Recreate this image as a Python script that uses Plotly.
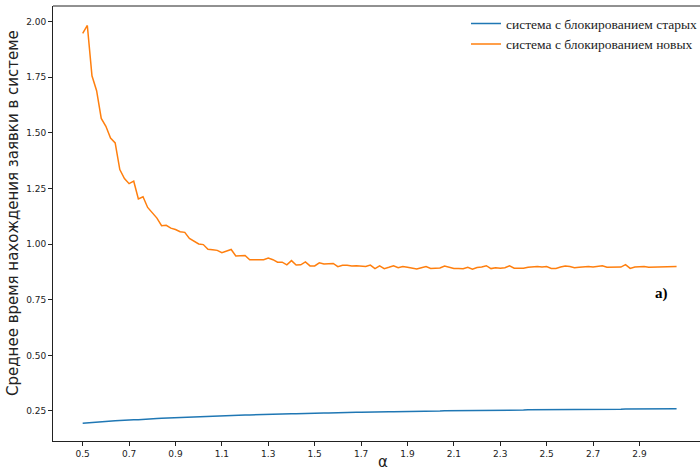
import plotly.graph_objects as go

alpha = [round(0.5 + 0.02 * i, 2) for i in range(129)]

blocked_old = [
    0.195, 0.197, 0.198, 0.200, 0.201,
    0.203, 0.204, 0.206, 0.207, 0.209,
    0.210, 0.211, 0.211, 0.213, 0.214,
    0.215, 0.216, 0.217, 0.218, 0.219,
    0.220, 0.220, 0.221, 0.222, 0.223,
    0.224, 0.224, 0.225, 0.226, 0.227,
    0.228, 0.228, 0.229, 0.230, 0.231,
    0.232, 0.232, 0.233, 0.234, 0.234,
    0.235, 0.236, 0.236, 0.237, 0.237,
    0.238, 0.238, 0.239, 0.239, 0.240,
    0.240, 0.241, 0.241, 0.241, 0.242,
    0.242, 0.243, 0.243, 0.243, 0.244,
    0.244, 0.245, 0.245, 0.245, 0.246,
    0.246, 0.247, 0.247, 0.247, 0.248,
    0.248, 0.248, 0.249, 0.249, 0.249,
    0.250, 0.250, 0.250, 0.251, 0.251,
    0.251, 0.251, 0.252, 0.252, 0.252,
    0.252, 0.253, 0.253, 0.253, 0.253,
    0.253, 0.254, 0.254, 0.254, 0.254,
    0.254, 0.255, 0.255, 0.255, 0.255,
    0.255, 0.256, 0.256, 0.256, 0.256,
    0.256, 0.257, 0.257, 0.257, 0.257,
    0.257, 0.258, 0.258, 0.258, 0.258,
    0.258, 0.258, 0.259, 0.259, 0.259,
    0.259, 0.259, 0.259, 0.260, 0.260,
    0.260, 0.260, 0.260, 0.260,
]

blocked_new = [
    1.948, 1.983, 1.757, 1.690, 1.565,
    1.530, 1.477, 1.455, 1.335, 1.295,
    1.272, 1.283, 1.203, 1.213, 1.165,
    1.142, 1.117, 1.083, 1.085, 1.072,
    1.066, 1.056, 1.053, 1.026, 1.015,
    1.001, 0.998, 0.977, 0.975, 0.972,
    0.962, 0.969, 0.976, 0.947, 0.949,
    0.949, 0.930, 0.930, 0.933, 0.930,
    0.937, 0.930, 0.919, 0.919, 0.907,
    0.926, 0.906, 0.907, 0.920, 0.902,
    0.902, 0.916, 0.911, 0.913, 0.913,
    0.899, 0.905, 0.905, 0.902, 0.903,
    0.902, 0.900, 0.906, 0.890, 0.902,
    0.890, 0.896, 0.903, 0.894, 0.899,
    0.896, 0.893, 0.888, 0.894, 0.899,
    0.891, 0.893, 0.893, 0.902, 0.895,
    0.891, 0.891, 0.889, 0.896, 0.887,
    0.895, 0.897, 0.903, 0.890, 0.894,
    0.892, 0.894, 0.903, 0.892, 0.891,
    0.892, 0.896, 0.898, 0.899, 0.897,
    0.899, 0.891, 0.891, 0.897, 0.902,
    0.899, 0.894, 0.896, 0.897, 0.900,
    0.897, 0.899, 0.903, 0.896, 0.896,
    0.896, 0.897, 0.908, 0.891, 0.897,
    0.899, 0.900, 0.896, 0.897, 0.898,
    0.899, 0.899, 0.902, 0.900,
]

series_names = ["система с блокированием старых", "система с блокированием новых"]
x_ticks = [0.5, 0.7, 0.9, 1.1, 1.3, 1.5, 1.7, 1.9, 2.1, 2.3, 2.5, 2.7, 2.9]
y_ticks = [0.25, 0.50, 0.75, 1.00, 1.25, 1.50, 1.75, 2.00]
y_title = "Среднее время нахождения заявки в системе"
x_title = "α"
panel_label = "a)"

fig = go.Figure()
fig.add_trace(go.Scatter(x=alpha, y=blocked_old, mode="lines", name=series_names[0],
                         line=dict(color="#1f77b4", width=1.5)))
fig.add_trace(go.Scatter(x=alpha, y=blocked_new, mode="lines", name=series_names[1],
                         line=dict(color="#ff7f0e", width=1.5)))

fig.add_annotation(x=2.995, y=0.78, text="<b>" + panel_label + "</b>", showarrow=False,
                   font=dict(family="Liberation Serif", size=15, color="black"))

# axis titles placed as annotations
fig.add_annotation(xref="paper", yref="paper", x=(383 - 53) / 647, y=-(462 - 441) / 435,
                   text=x_title, showarrow=False, xanchor="center", yanchor="middle",
                   font=dict(family="DejaVu Sans", size=15, color="#222"))
fig.add_annotation(xref="paper", yref="paper", x=-(53 - 13) / 647, y=(441 - 213) / 435,
                   text=y_title, showarrow=False, textangle=-90, xanchor="center", yanchor="middle",
                   font=dict(family="DejaVu Sans", size=15, color="#222"))

axis_common = dict(showgrid=False, zeroline=False, showline=True, linecolor="#222",
                   linewidth=1, ticks="outside", ticklen=4, tickcolor="#222", automargin=False,
                   tickfont=dict(family="DejaVu Sans", size=9, color="#222"))

fig.update_xaxes(range=[0.372, 3.161], tickvals=x_ticks,
                 ticktext=[f"{v:.1f}" for v in x_ticks], **axis_common)
fig.update_yaxes(range=[0.115, 2.0706], tickvals=y_ticks,
                 ticktext=[f"{v:.2f}" for v in y_ticks], **axis_common)

fig.add_shape(type="line", xref="paper", yref="paper", x0=0, x1=1, y0=1, y1=1,
              line=dict(color="#222", width=1))

fig.update_layout(
    width=700, height=474,
    margin=dict(l=53, r=0, t=6, b=33, autoexpand=False),
    plot_bgcolor="white", paper_bgcolor="white",
    showlegend=True,
    legend=dict(x=(466 - 53) / 647, xanchor="left", y=0.995, yanchor="top",
                bgcolor="rgba(0,0,0,0)", borderwidth=0,
                font=dict(family="Liberation Serif", size=13.5, color="#222"),
                itemwidth=30, tracegroupgap=0),
)

fig.write_html("out.html", config={"displayModeBar": False},
               post_script="document.body.style.margin='0';")
